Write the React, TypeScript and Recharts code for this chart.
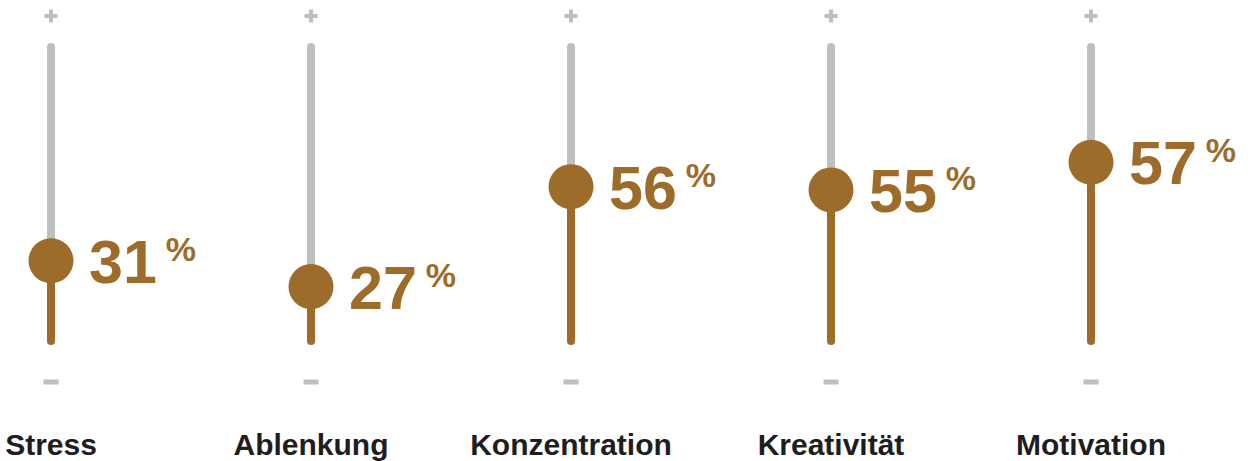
import React from "react";
import { ComposedChart, Scatter, XAxis, YAxis, ReferenceLine } from "recharts";

const categories = ["Stress", "Ablenkung", "Konzentration", "Kreativität", "Motivation"];
// printed percentages
const shares = [31, 27, 56, 55, 57];
// where the knob sits on the slider track (0 = bottom, 100 = top)
const sliderPos = [27.3, 18.5, 52.5, 51.4, 60.8];

const BROWN = "#9d6c2b";
const GRAY = "#bfbfbf";
const DARK = "#1e1e1e";
const FONT = "'Liberation Sans', Arial, sans-serif";
const KNOB_R = 22.5;

const rows = categories.map((name, i) => ({ idx: i, name, share: shares[i], pos: sliderPos[i] }));

function Frame(props: any) {
  const { x1, y1, y2, name } = props;
  // y1 = bottom (0), y2 = top (100)
  return (
    <g>
      <rect x={x1 - 6.5} y={y2 - 33} width={13} height={4} fill={GRAY} />
      <rect x={x1 - 2} y={y2 - 37.5} width={4} height={13} fill={GRAY} />
      <rect x={x1 - 7.5} y={y1 + 38.5} width={15} height={5} fill={GRAY} />
      <text x={x1} y={y1 + 114} textAnchor="middle" fontFamily={FONT} fontWeight={700} fontSize={30} fill={DARK}>
        {name}
      </text>
    </g>
  );
}

function Knob(props: any) {
  const { cx, cy, payload } = props;
  return (
    <g>
      <circle cx={cx} cy={cy} r={KNOB_R} fill={BROWN} />
      <text x={cx + 38} y={cy + 22} fontFamily={FONT} fontWeight={700} fontSize={61} fill={BROWN}>
        {payload.share}
        <tspan fontSize={34} dx={9} dy={-22}>%</tspan>
      </text>
    </g>
  );
}

export default function App() {
  return (
    <div style={{ position: "absolute", left: 0, top: 0 }}>
      <ComposedChart width={1255} height={461} data={rows} margin={{ top: 47, right: 164, bottom: 120, left: 51 }}>
        <XAxis dataKey="idx" type="number" domain={[0, 4]} hide />
        <YAxis dataKey="pos" type="number" domain={[0, 100]} hide />
        {rows.map((r) => (
          <ReferenceLine
            key={"f" + r.idx}
            segment={[{ x: r.idx, y: 0 }, { x: r.idx, y: 100 }]}
            shape={(p: any) => <Frame {...p} name={r.name} />}
          />
        ))}
        {rows.map((r) => (
          <ReferenceLine
            key={"g" + r.idx}
            segment={[{ x: r.idx, y: r.pos }, { x: r.idx, y: 100 }]}
            shape={(p: any) => (
              <line x1={p.x1} y1={p.y1 - KNOB_R + 2} x2={p.x2} y2={p.y2} stroke={GRAY} strokeWidth={8} strokeLinecap="round" />
            )}
          />
        ))}
        {rows.map((r) => (
          <ReferenceLine
            key={"b" + r.idx}
            segment={[{ x: r.idx, y: 0 }, { x: r.idx, y: r.pos }]}
            shape={(p: any) => (
              <line x1={p.x1} y1={p.y1} x2={p.x2} y2={p.y2 + KNOB_R - 2} stroke={BROWN} strokeWidth={8} strokeLinecap="round" />
            )}
          />
        ))}
        <Scatter dataKey="pos" isAnimationActive={false} shape={(p: any) => <Knob {...p} />} />
      </ComposedChart>
    </div>
  );
}
